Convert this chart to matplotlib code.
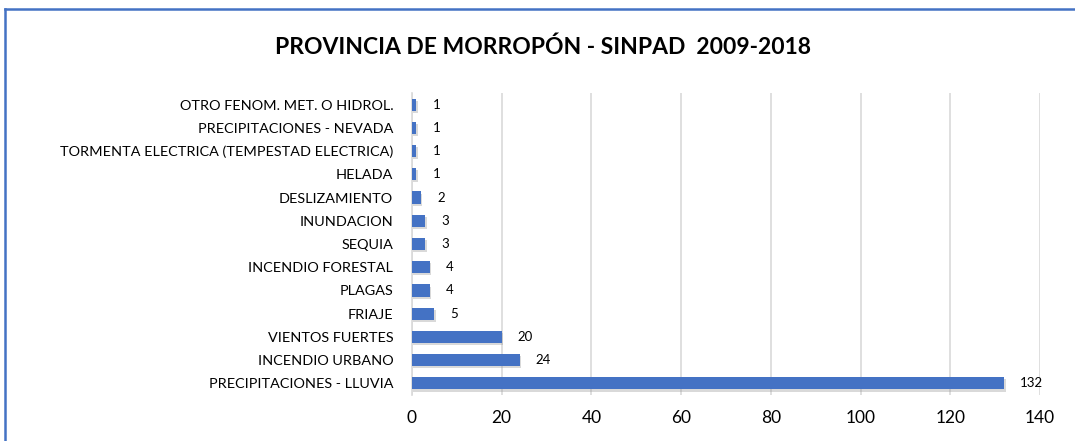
import matplotlib.pyplot as plt
import matplotlib.patheffects as pe
from matplotlib.lines import Line2D

# data (top to bottom as shown)
categories = ['OTRO FENOM. MET. O HIDROL.', 'PRECIPITACIONES - NEVADA',
              'TORMENTA ELECTRICA (TEMPESTAD ELECTRICA)', 'HELADA', 'DESLIZAMIENTO',
              'INUNDACION', 'SEQUIA', 'INCENDIO FORESTAL', 'PLAGAS', 'FRIAJE',
              'VIENTOS FUERTES', 'INCENDIO URBANO', 'PRECIPITACIONES - LLUVIA']
values = [1, 1, 1, 1, 2, 3, 3, 4, 4, 5, 20, 24, 132]
xticks = [0, 20, 40, 60, 80, 100, 120, 140]

plt.rcParams['font.family'] = ['Lato', 'DejaVu Sans']

fig = plt.figure(figsize=(10.75, 4.41), dpi=100)
ax = fig.add_axes([412 / 1075, 1 - 395 / 441, 628 / 1075, 302 / 441])

ypos = list(range(len(categories)))[::-1]
bars = ax.barh(ypos, values, height=0.52, color='#4472C4', zorder=3)
for b in bars:
    b.set_path_effects([pe.SimplePatchShadow(offset=(1, -1.5), shadow_rgbFace='#a0a0a0', alpha=0.4),
                        pe.Normal()])

for y, v in zip(ypos, values):
    ax.text(v + 3.6, y, str(v), va='center', ha='left', fontsize=9.5, color='#000000')

ax.set_xlim(0, 140)
ax.set_ylim(-0.5, len(categories) - 0.5)
ax.set_xticks(xticks)
ax.set_yticks(ypos)
ax.set_yticklabels(categories, fontsize=10.4)
ax.tick_params(axis='x', labelsize=12.5, length=0, pad=11)
ax.tick_params(axis='y', length=0, pad=13.5)
ax.grid(axis='x', color='#D9D9D9', linewidth=1.2, zorder=0)
for s in ['top', 'right', 'bottom']:
    ax.spines[s].set_visible(False)
ax.spines['left'].set_color('#D9D9D9')
ax.spines['left'].set_linewidth(1.2)

fig.text(543 / 1075, 1 - 47 / 441, 'PROVINCIA DE MORROPÓN - SINPAD  2009-2018',
         ha='center', va='center', fontsize=16.5, fontweight='bold')

# chart border (left and top only visible)
fig.add_artist(Line2D([5 / 1075, 5 / 1075], [0, 1 - 9 / 441], transform=fig.transFigure,
                      color='#4472C4', linewidth=1.8))
fig.add_artist(Line2D([5 / 1075, 1], [1 - 9 / 441, 1 - 9 / 441], transform=fig.transFigure,
                      color='#4472C4', linewidth=1.8))

fig.savefig('out.png', dpi=100)
